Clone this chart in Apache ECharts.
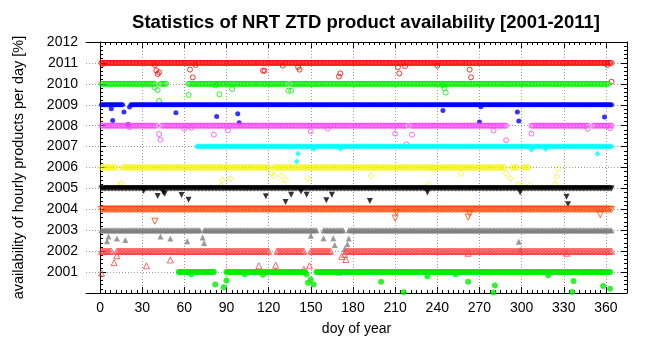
<!DOCTYPE html>
<html>
<head>
<meta charset="utf-8">
<script src="https://cdn.jsdelivr.net/npm/echarts@6/dist/echarts.min.js"></script>
<style>
  body { margin: 0; background: #fff; }
  #chart { width: 647px; height: 352px; }
</style>
</head>
<body>
<div id="chart"></div>
<script>
// years shown, each one drawn on its own level (100% = the year line)
var years = [2011, 2010, 2009, 2008, 2007, 2006, 2005, 2004, 2003, 2002, 2001];
var yTicks = [2001, 2002, 2003, 2004, 2005, 2006, 2007, 2008, 2009, 2010, 2011, 2012];
var xTicks = [0, 30, 60, 90, 120, 150, 180, 210, 240, 270, 300, 330, 360];

// days of year with a full (100%) day, as [first, last] ranges
var days2011 = [[1, 364]];
var days2010 = [[1, 39], [43, 47], [63, 133], [136, 362]];
var days2009 = [[1, 16], [22, 364]];
var days2008 = [[1, 40], [44, 218], [221, 289], [307, 347], [351, 364]];
var days2007 = [[69, 364]];
var days2006 = [[1, 11], [16, 120], [123, 288], [293, 297], [301, 305]];
var days2005 = [[1, 364]];
var days2004 = [[1, 364]];
var days2003 = [[1, 71], [74, 154], [159, 173], [177, 364]];
var days2002 = [[1, 8], [12, 120], [126, 145], [150, 164], [175, 364]];
var days2001 = [[56, 81], [90, 146], [154, 363]];

// days below 100%: [day, value]
var low2011 = [[2, 2010.95], [39, 2010.9], [40, 2010.64], [41, 2010.47], [42, 2010.55], [64, 2010.68], [66, 2010.31], [68, 2010.9],
  [116, 2010.63], [117, 2010.62], [130, 2010.87], [141, 2010.8], [142, 2010.68], [170, 2010.35], [171, 2010.5],
  [212, 2010.8], [213, 2010.5], [217, 2010.85], [240, 2010.87], [263, 2010.68], [264, 2010.31], [361, 2010.9], [364, 2010.1]];
var low2010 = [[39, 2009.83], [41, 2009.7], [42, 2009.18], [63, 2009.47], [82, 2009.93], [85, 2009.5], [94, 2009.75],
  [134, 2009.67], [136, 2009.67], [244, 2009.93], [245, 2009.8], [246, 2009.58]];
var low2009 = [[8, 2008.81], [9, 2008.25], [17, 2008.65], [20, 2008.06], [21, 2008.89], [54, 2008.62], [83, 2008.44],
  [98, 2008.57], [99, 2008.14], [244, 2008.73], [270, 2008.17], [271, 2008.9], [297, 2008.65], [298, 2008.22], [359, 2008.41]];
var low2008 = [[21, 2007.93], [42, 2007.6], [43, 2007.33], [60, 2007.85], [65, 2007.9], [81, 2007.57], [91, 2007.77],
  [150, 2007.73], [162, 2007.86], [210, 2007.62], [218, 2007.1], [222, 2007.57], [280, 2007.77], [289, 2007.3],
  [307, 2007.62], [347, 2007.85], [363, 2007.88]];
var low2007 = [[140, 2006.29], [141, 2006.66], [152, 2006.88], [171, 2006.9], [307, 2006.85], [317, 2006.88], [354, 2006.66]];
var low2006 = [[13, 2005.95], [14, 2005.11], [15, 2005.24], [86, 2005.11], [87, 2005.4], [93, 2005.48], [122, 2005.72],
  [124, 2005.6], [129, 2005.6], [132, 2005.4], [148, 2005.48], [193, 2005.6], [234, 2005.19], [237, 2005.9],
  [257, 2005.7], [289, 2005.72], [292, 2005.48], [298, 2005.19], [300, 2005.11], [306, 2005.16], [324, 2005.19],
  [325, 2005.56], [326, 2005.95]];
var low2005 = [[31, 2004.88], [41, 2004.64], [45, 2004.8], [46, 2004.75], [58, 2004.69], [63, 2004.46], [118, 2004.63],
  [132, 2004.35], [136, 2004.7], [143, 2004.85], [147, 2004.7], [161, 2004.43], [165, 2004.7], [192, 2004.4],
  [233, 2004.8], [299, 2004.8], [332, 2004.6], [333, 2004.24]];
var low2004 = [[39, 2003.43], [210, 2003.58], [211, 2003.85], [262, 2003.63], [263, 2003.8], [356, 2003.75]];
var low2003 = [[5, 2002.47], [6, 2002.7], [12, 2002.6], [18, 2002.53], [43, 2002.7], [50, 2002.6], [62, 2002.47],
  [73, 2002.65], [74, 2002.39], [150, 2002.74], [159, 2002.62], [166, 2002.62], [167, 2002.29], [174, 2002.1],
  [176, 2002.33], [177, 2002.6], [298, 2002.45], [299, 2002.07]];
var low2002 = [[1, 2000.95], [10, 2001.45], [12, 2001.78], [33, 2001.3], [50, 2001.58], [113, 2001.3], [125, 2001.33],
  [125, 2001.05], [145, 2001.13], [149, 2001.3], [170, 2001.0], [172, 2001.75], [174, 2001.85], [175, 2001.6],
  [262, 2001.9], [332, 2001.9]];
var low2001 = [[65, 2000.9], [82, 2000.41], [88, 2000.28], [90, 2000.6], [103, 2000.9], [116, 2000.87], [147, 2000.9],
  [148, 2000.49], [150, 2000.65], [152, 2000.41], [200, 2000.54], [216, 2000.04], [233, 2000.8], [253, 2000.9],
  [262, 2000.54], [280, 2000.02], [281, 2000.36], [319, 2000.85], [336, 2000.05], [337, 2000.57], [358, 2000.33], [363, 2000.2]];

var fullDays = [days2011, days2010, days2009, days2008, days2007, days2006, days2005, days2004, days2003, days2002, days2001];
var lowDays = [low2011, low2010, low2009, low2008, low2007, low2006, low2005, low2004, low2003, low2002, low2001];

// marker look per year (gnuplot style)
var looks = [
  {color: '#ff0000', symbol: 'circle', open: true, rot: 0, size: 5},
  {color: '#00ee00', symbol: 'circle', open: true, rot: 0, size: 5},
  {color: '#0000ff', symbol: 'circle', open: false, rot: 0, size: 5},
  {color: '#ff44ff', symbol: 'circle', open: true, rot: 0, size: 5},
  {color: '#00ffff', symbol: 'diamond', open: false, rot: 0, size: 6},
  {color: '#f4f400', symbol: 'diamond', open: true, rot: 0, size: 6},
  {color: '#000000', symbol: 'triangle', open: false, rot: 180, size: 6},
  {color: '#ff4500', symbol: 'triangle', open: true, rot: 180, size: 6},
  {color: '#808080', symbol: 'triangle', open: false, rot: 0, size: 6},
  {color: '#ff4040', symbol: 'triangle', open: true, rot: 0, size: 6},
  {color: '#00ee00', symbol: 'circle', open: false, rot: 0, size: 6}
];

function buildData(year, ranges, lows) {
  var data = [];
  for (var r = 0; r < ranges.length; r++) {
    for (var d = ranges[r][0]; d <= ranges[r][1]; d++) {
      data.push([d, year]);
    }
  }
  for (var i = 0; i < lows.length; i++) {
    data.push(lows[i]);
  }
  return data;
}

// minor tick positions between the major x ticks
var xMinor = [];
for (var m = 0; m < xTicks.length - 1; m++) {
  for (var s = 1; s < 8; s++) {
    xMinor.push(xTicks[m] + s * (xTicks[m + 1] - xTicks[m]) / 8);
  }
}

var series = [];
for (var k = 0; k < years.length; k++) {
  var lk = looks[k];
  series.push({
    name: String(years[k]),
    type: 'scatter',
    symbol: lk.symbol,
    symbolSize: lk.size,
    symbolRotate: lk.rot,
    silent: true,
    animation: false,
    itemStyle: lk.open ? {color: 'rgba(0,0,0,0)', borderColor: lk.color, borderWidth: 1} : {color: lk.color},
    data: buildData(years[k], fullDays[k], lowDays[k])
  });
}

var font = 'Liberation Sans, Arial, sans-serif';
var gridLine = {show: true, lineStyle: {color: '#999', type: [1, 2], width: 1}};

function xAxisPart(pos, major, withLabels) {
  return {
    type: 'value',
    position: pos,
    min: -10,
    max: 375,
    name: withLabels ? 'doy of year' : '',
    nameLocation: 'middle',
    nameGap: 29,
    nameTextStyle: {fontFamily: font, fontSize: 14, color: '#000'},
    axisLine: {show: major, onZero: false, lineStyle: {color: '#000', width: 1}},
    axisTick: {show: true, inside: true, length: major ? 6 : 3, customValues: major ? xTicks : xMinor, lineStyle: {color: '#000'}},
    axisLabel: {
      show: withLabels, customValues: xTicks,
      fontFamily: font, fontSize: 14, color: '#000', margin: 8
    },
    splitLine: withLabels ? gridLine : {show: false}
  };
}

var option = {
  backgroundColor: '#fff',
  animation: false,
  title: {
    text: 'Statistics of NRT ZTD product availability [2001-2011]',
    left: 361,
    top: 8,
    textAlign: 'center',
    textStyle: {fontFamily: font, fontSize: 18.5, fontWeight: 'bold', color: '#000'}
  },
  grid: {left: 86, right: 20, top: 42, bottom: 59, containLabel: false},
  xAxis: [
    xAxisPart('bottom', true, true),
    xAxisPart('top', true, false),
    xAxisPart('bottom', false, false),
    xAxisPart('top', false, false)
  ],
  yAxis: [{
    type: 'value',
    min: 2000,
    max: 2012,
    interval: 1,
    name: 'availability of hourly products per day [%]',
    nameLocation: 'middle',
    nameGap: 60,
    nameTextStyle: {fontFamily: font, fontSize: 14.5, color: '#000'},
    axisLine: {show: true, lineStyle: {color: '#000', width: 1}},
    axisTick: {show: true, inside: true, length: 6, lineStyle: {color: '#000'}},
    minorTick: {show: true, splitNumber: 5, length: 3, lineStyle: {color: '#000'}},
    axisLabel: {
      fontFamily: font, fontSize: 14, color: '#000', margin: 8,
      formatter: function (v) { return yTicks.indexOf(v) >= 0 ? String(v) : ''; }
    },
    splitLine: gridLine
  }, {
    type: 'value',
    position: 'right',
    min: 2000,
    max: 2012,
    interval: 1,
    axisLine: {show: true, onZero: false, lineStyle: {color: '#000', width: 1}},
    axisTick: {show: true, inside: true, length: 6, lineStyle: {color: '#000'}},
    minorTick: {show: true, splitNumber: 5, length: 3, lineStyle: {color: '#000'}},
    axisLabel: {show: false},
    splitLine: {show: false}
  }],
  series: series
};

var chart = echarts.init(document.getElementById('chart'));
chart.setOption(option);
</script>
</body>
</html>
